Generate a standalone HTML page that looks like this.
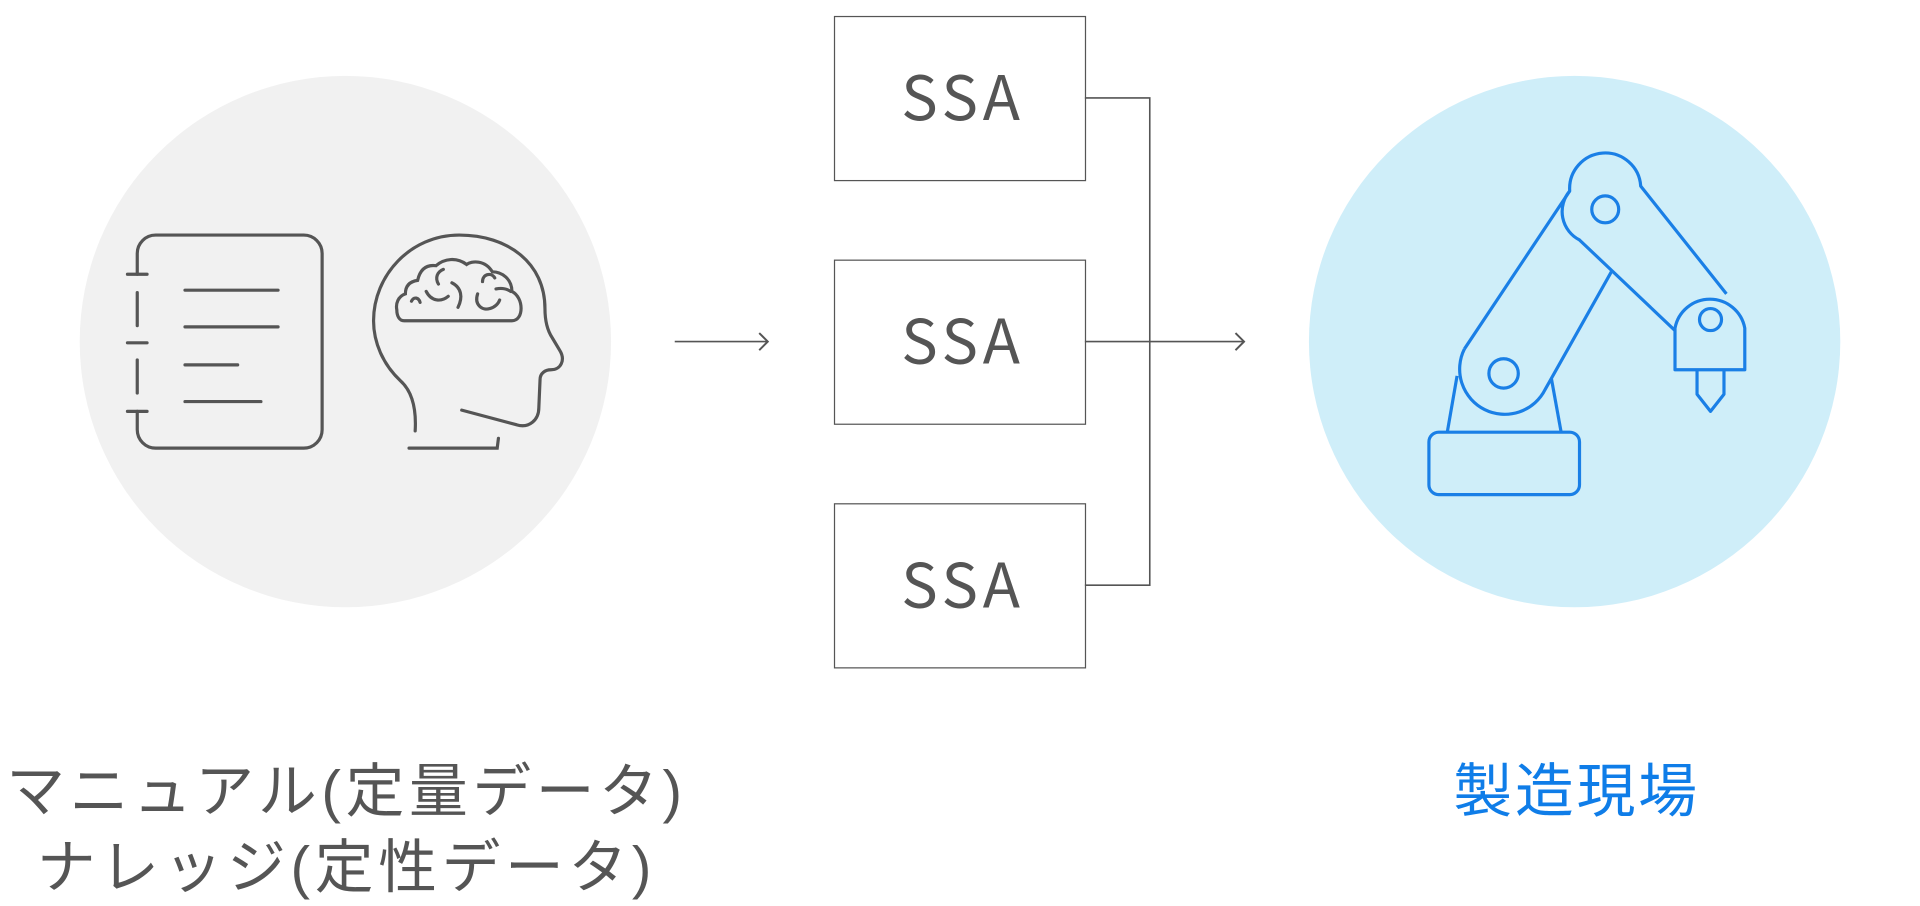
<!DOCTYPE html>
<html><head><meta charset="utf-8"><style>
html,body{margin:0;padding:0;background:#fff;width:1920px;height:906px;overflow:hidden}
svg{display:block}
</style></head><body>
<svg width="1920" height="906" viewBox="0 0 1568 740" xmlns="http://www.w3.org/2000/svg">
<circle cx="282" cy="279" r="217" fill="#f1f1f1"/>
<circle cx="1286" cy="279" r="217" fill="#cfeef9"/>
<g fill="none" stroke="#555" stroke-width="2.6" stroke-linecap="round">
<path d="M112 224 V207 a15 15 0 0 1 15 -15 H248 a15 15 0 0 1 15 15 V351 a15 15 0 0 1 -15 15 H127 a15 15 0 0 1 -15 -15 V336"/>
<line x1="104" y1="224" x2="120" y2="224"/>
<line x1="112" y1="239" x2="112" y2="266"/>
<line x1="104" y1="280" x2="120" y2="280"/>
<line x1="112" y1="294" x2="112" y2="321"/>
<line x1="104" y1="336" x2="120" y2="336"/>
<line x1="151" y1="237" x2="227" y2="237"/>
<line x1="151" y1="267" x2="227" y2="267"/>
<line x1="151" y1="298" x2="194" y2="298"/>
<line x1="151" y1="328" x2="213" y2="328"/>
<path d="M339 352 C340 335 337 320 327 311 C313 298 305 280 305 262 C305 225 335 192 375 192 C415 192 445 215 445 252 C445 262 447 270 451 276 L457 286 C462 294 458 302 450 302 C445 302 441 305 441 310 L440 333 C440 343 432 350 422 347 L377 335"/>
<path d="M334 366 H406 L407 358"/>
<path d="M330 262 H418 C428 262 428 243 418 238 C418 228 410 222 402 222 C396 212 385 213 381 216 C373 210 363 211 356 217 C348 216 343 220 341 229 C334 230 331 234 331 240 C325 242 323 248 324 253 C324 258 326 262 330 262 Z"/>
<path d="M336 246 C338 242 342 243 343 247"/>
<path d="M348 238 C352 246 360 247 366 242"/>
<path d="M369 231 C377 235 378 243 374 251"/>
<path d="M358 232 C355 227 357 222 362 220"/>
<path d="M390 240 C387 249 394 254 400 252 C404 251 407 248 408 245"/>
<path d="M394 230 C394 224 401 222 404 227"/>
<path d="M405 236 C410 235 414 236 417 238"/>
</g>
<g fill="none" stroke="#555" stroke-width="1.3">
<line x1="551" y1="279" x2="627" y2="279"/>
<path d="M620 272 L627 279 L620 286" stroke-width="1.6"/>
</g>
<g fill="#fff" stroke="#555" stroke-width="1">
<rect x="681.5" y="13.5" width="205" height="134"/>
<rect x="681.5" y="212.5" width="205" height="134"/>
<rect x="681.5" y="411.5" width="205" height="134"/>
</g>
<g font-family="Noto Sans CJK JP, Liberation Sans, sans-serif" font-size="50" fill="#555">
<text x="736" y="98" textLength="97" lengthAdjust="spacing">SSA</text>
<text x="736" y="297" textLength="97" lengthAdjust="spacing">SSA</text>
<text x="736" y="496" textLength="97" lengthAdjust="spacing">SSA</text>
</g>
<g fill="none" stroke="#555" stroke-width="1.3">
<path d="M886 80 H939 V478 H886"/>
<line x1="886" y1="279" x2="1016" y2="279"/>
<path d="M1009 272 L1016 279 L1009 286" stroke-width="1.6"/>
</g>
<g fill="none" stroke="#1a7fe6" stroke-width="2.6" stroke-linejoin="round">
<rect x="1167" y="353" width="123" height="51" rx="8"/>
<path d="M1182 353 L1190 307"/>
<path d="M1275 353 L1267 309"/>
<path d="M1196 285 L1282 156 A26 26 0 0 1 1340 152 L1410 240"/>
<path d="M1196 285 A36 36 0 1 0 1262 318 L1316 222"/>
<path d="M1282 156 A26 26 0 0 0 1290 196 L1368 270"/>
<path d="M1368 302 V268 A29 29 0 0 1 1425 268 V302 Z"/>
<path d="M1386 302 V322 L1397 336 L1408 322 V302"/>
<circle cx="1228" cy="305" r="12"/>
<circle cx="1311" cy="171" r="11"/>
<circle cx="1397" cy="261" r="9"/>
</g>
<g font-family="Liberation Sans, Noto Sans CJK JP, sans-serif" font-size="48" fill="#555">
<text x="5" y="663" textLength="552" lengthAdjust="spacing">マニュアル(定量データ)</text>
<text x="30" y="725" textLength="502" lengthAdjust="spacing">ナレッジ(定性データ)</text>
</g>
<text x="1187" y="663" textLength="199" lengthAdjust="spacing" font-family="Liberation Sans, Noto Sans CJK JP, sans-serif" font-size="48" fill="#0f7de8">製造現場</text>
</svg>
</body></html>
